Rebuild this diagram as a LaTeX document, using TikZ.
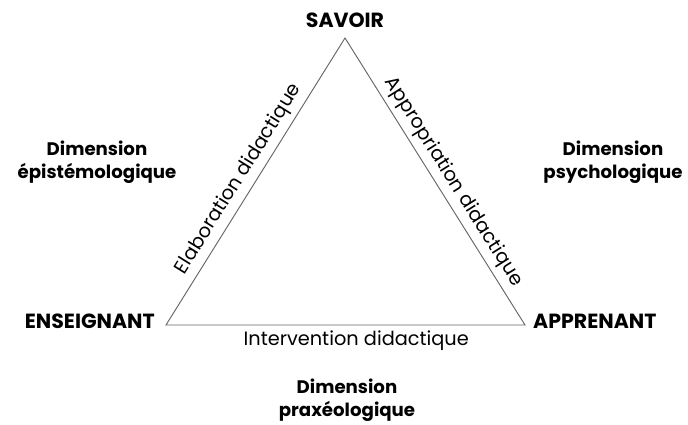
\documentclass[tikz,border=0pt]{standalone}
\usepackage{fontspec}
\setmainfont{Poppins}
\usepackage{tikz}

\begin{document}
\begin{tikzpicture}[x=0.03cm, y=-0.03cm,
    vertex/.style={font=\bfseries\fontsize{17.5}{20}\selectfont, inner sep=0pt},
    dimension/.style={font=\bfseries\fontsize{15.5}{19.5}\selectfont, align=center},
    side/.style={font=\fontsize{16.5}{19}\selectfont, text=black}]
    \useasboundingbox (0,0) rectangle (688,425);
    % Corners
    \coordinate (top) at (345,38);
    \coordinate (left) at (166,325);
    \coordinate (right) at (525,325);

    % Poles
    \node[vertex] (savoir) at (345,20) {SAVOIR};
    \node[vertex, anchor=east] (enseignant) at (155,321) {ENSEIGNANT};
    \node[vertex, anchor=west] (apprenant) at (533,321) {APPRENANT};

    % Dimensions
    \node[dimension] (episteme) at (97,162) {Dimension\\épistémologique};
    \node[dimension] (psycho) at (613,162) {Dimension\\psychologique};
    \node[dimension] (praxeo) at (347,400) {Dimension\\praxéologique};

    % Triangle
    \draw[draw=black!60, line width=0.8pt] (left) -- node[side, sloped, above=1pt, pos=0.48] (elaboration) {Elaboration didactique} (top)
        -- node[side, sloped, above=1pt, pos=0.53] (appropriation) {Appropriation didactique} (right)
        -- node[side, below=1pt, pos=0.47] (intervention) {Intervention didactique} cycle;
\end{tikzpicture}
\end{document}
